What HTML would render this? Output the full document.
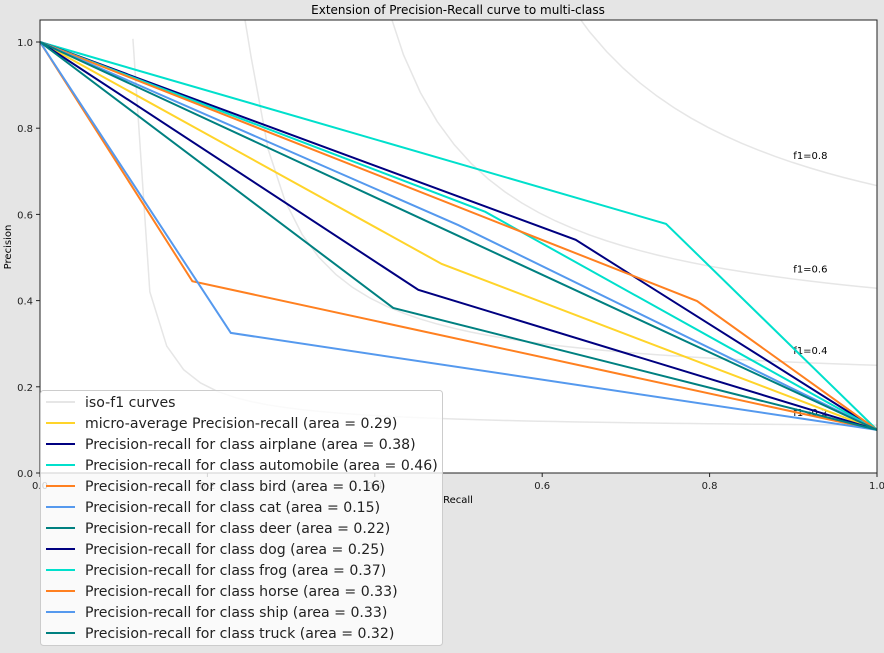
<!DOCTYPE html>
<html><head><meta charset="utf-8"><style>
body{margin:0;background:#e5e5e5;}
svg{display:block;font-family:"DejaVu Sans","Liberation Sans",sans-serif;}
</style></head><body>
<svg id="chart" width="884" height="653">
<rect width="884" height="653" fill="#e5e5e5"/>
<rect x="40" y="20" width="837" height="453" fill="#fff"/>
<g id="grid"></g>
<g id="series"></g>
<rect x="40" y="20" width="837" height="453" fill="none" stroke="#222" stroke-width="1"/>
<g id="axes"></g>
<text x="458" y="14" text-anchor="middle" font-size="12" fill="#000">Extension of Precision-Recall curve to multi-class</text>
<text x="458" y="503" text-anchor="middle" font-size="10" fill="#000">Recall</text>
<text transform="translate(11,247) rotate(-90)" text-anchor="middle" font-size="10" fill="#000">Precision</text>
<g id="legend"></g>
</svg>
<script>
const labels=["micro-average Precision-recall","airplane","automobile","bird","cat","deer","dog","frog","horse","ship","truck"];
const areas=[0.29,0.38,0.46,0.16,0.15,0.22,0.25,0.37,0.33,0.33,0.32];
const recallMid=[0.48,0.452,0.748,0.182,0.228,0.422,0.640,0.532,0.785,0.50,0.50];
const precMid=[0.485,0.425,0.578,0.445,0.325,0.383,0.541,0.606,0.399,0.575,0.55];
const colors=["#ffd42a","#000080","#00e0cc","#ff8020","#5599ee","#008080","#000080","#00e0cc","#ff8020","#5599ee","#008080"];
const f1Scores=[0.2,0.4,0.6,0.8];
const xTicks=[0,0.2,0.4,0.6,0.8,1.0];
const yTicks=[0,0.2,0.4,0.6,0.8,1.0];
const NS="http://www.w3.org/2000/svg";
const X=v=>40+v*837, Y=v=>473-v*431;
function mk(t,a,p){const e=document.createElementNS(NS,t);for(const k in a)e.setAttribute(k,a[k]);p.appendChild(e);return e;}
const grid=document.getElementById('grid'),ser=document.getElementById('series'),ax=document.getElementById('axes'),lg=document.getElementById('legend');
f1Scores.forEach((f,i)=>{let pts=[];let lab=null;
 for(let k=0;k<50;k++){const x=0.01+k*(0.99/49);const y=f*x/(2*x-f);if(y>=0){pts.push(X(x)+','+Y(Math.min(y,1.2)));} if(k===45)lab=y;}
 const cp=mk('clipPath',{id:'c'+i},grid);mk('rect',{x:40,y:20,width:837,height:453},cp);
 const l=mk('polyline',{points:pts.join(' '),fill:'none',stroke:'#e6e6e6','stroke-width':1.5,'clip-path':'url(#c'+i+')'},grid);
 
 
 const t=mk('text',{x:X(0.9),y:Y(lab+0.02),'font-size':10,fill:'#000'},grid);t.textContent='f1='+f;
 
 
});
labels.forEach((n,i)=>{
 const l=mk('polyline',{points:[X(0)+','+Y(1),X(recallMid[i])+','+Y(precMid[i]),X(1)+','+Y(0.1)].join(' '),fill:'none',stroke:colors[i],'stroke-width':2},ser);
 
 
});
xTicks.forEach(v=>{mk('line',{x1:X(v),x2:X(v),y1:473,y2:477,stroke:'#222'},ax);
 const t=mk('text',{x:X(v),y:489,'text-anchor':'middle','font-size':10,fill:'#222'},ax);t.textContent=v.toFixed(1);
 
 });
yTicks.forEach(v=>{mk('line',{x1:36,x2:40,y1:Y(v),y2:Y(v),stroke:'#222'},ax);
 const t=mk('text',{x:33,y:Y(v)+4,'text-anchor':'end','font-size':10,fill:'#222'},ax);t.textContent=v.toFixed(1);
 
 });
const box=mk('rect',{x:40.5,y:390.5,width:402,height:255,rx:3,fill:'#fff','fill-opacity':0.8,stroke:'#ccc'},lg);


const ent=[['iso-f1 curves','#e6e6e6']].concat(labels.map((n,i)=>[(i?'Precision-recall for class '+n:n)+' (area = '+areas[i].toFixed(2)+')',colors[i]]));
ent.forEach((e,i)=>{const y=402+i*21;
 mk('line',{x1:46,x2:75,y1:y,y2:y,stroke:e[1],'stroke-width':2},lg);
 const t=mk('text',{x:85,y:y+5,'font-size':14.1,fill:'#222'},lg);t.textContent=e[0];
 
 });
</script>
</body></html>
